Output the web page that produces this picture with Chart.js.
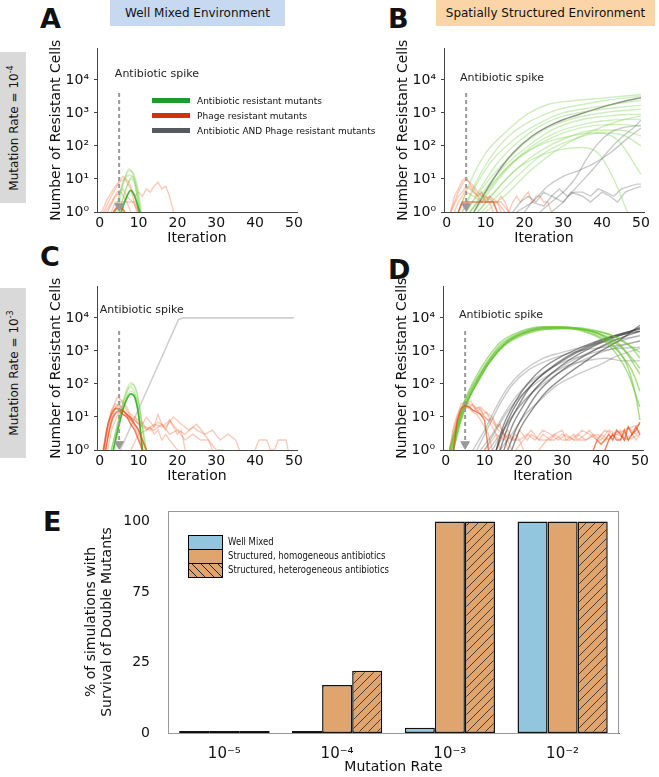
<!DOCTYPE html>
<html lang="en">
<head>
<meta charset="UTF-8">
<title>Resistant cells and double mutant survival</title>
<script src="https://cdn.jsdelivr.net/npm/chart.js"></script>
<style>
  body { margin: 0; background: #fff; font-family: 'DejaVu Sans', sans-serif; color: #111; }
  #fig { position: relative; width: 659px; height: 777px; overflow: hidden; }
  canvas { position: absolute; }
  .letter { position: absolute; font-weight: bold; font-size: 27px; line-height: 1; }
  .head { position: absolute; top: 0; height: 26px; line-height: 26px; text-align: center; font-size: 12px; }
  .side { position: absolute; left: 0; width: 26px; background: #d9d9d9; }
  .side span { position: absolute; left: 50%; top: 50%; transform: translate(-50%, -50%) rotate(-90deg); white-space: nowrap; font-size: 12px; }
  .side sup { font-size: 8px; }
  #legA { position: absolute; left: 152px; top: 94px; font-size: 9px; z-index: 5; }
  #legA div { height: 15px; line-height: 15px; white-space: nowrap; }
  #legA i { display: inline-block; width: 38px; height: 5px; vertical-align: middle; margin-right: 7px; margin-top: -2px; }
  #legE { position: absolute; left: 188px; top: 535px; z-index: 5; }
  #legE div { height: 14px; position: relative; }
  #legE b { position: absolute; left: 0; top: 0; width: 33px; height: 13px; border: 1px solid #000; }
  #legE span { position: absolute; left: 40px; top: 0; line-height: 14px; white-space: nowrap; font-size: 10px;
    transform: scaleX(0.85); transform-origin: left center; }
</style>
</head>
<body>
<div id="fig">
  <div class="letter" style="left:40px; top:5px;">A</div>
  <div class="letter" style="left:388px; top:5px;">B</div>
  <div class="letter" style="left:40px; top:243px;">C</div>
  <div class="letter" style="left:388px; top:256px;">D</div>
  <div class="letter" style="left:43px; top:508px;">E</div>

  <div class="head" style="left:110px; width:175px; background:#c6d9f1;">Well Mixed Environment</div>
  <div class="head" style="left:436px; width:219px; background:#fbd5a8;">Spatially Structured Environment</div>

  <div class="side" style="top:52px; height:151px;"><span>Mutation Rate = 10<sup>-4</sup></span></div>
  <div class="side" style="top:288px; height:170px;"><span>Mutation Rate = 10<sup>-3</sup></span></div>

  <canvas id="cA" width="277" height="212" style="left:30px; top:35px;"></canvas>
  <canvas id="cB" width="277" height="212" style="left:377px; top:35px;"></canvas>
  <canvas id="cC" width="277" height="212" style="left:30px; top:273px;"></canvas>
  <canvas id="cD" width="277" height="212" style="left:376px; top:273px;"></canvas>
  <canvas id="cE" width="570" height="277" style="left:60px; top:500px;"></canvas>

  <div id="legA">
    <div><i style="background:#1f9a2e"></i>Antibiotic resistant mutants</div>
    <div><i style="background:#d4300c"></i>Phage resistant mutants</div>
    <div><i style="background:#56595e"></i>Antibiotic AND Phage resistant mutants</div>
  </div>

  <div id="legE">
    <div><b style="background:#92c5de"></b><span>Well Mixed</span></div>
    <div><b style="background:#e0a46e"></b><span>Structured, homogeneous antibiotics</span></div>
    <div><b style="background:repeating-linear-gradient(45deg, #e0a46e 0 5px, #222 5px 6px)"></b><span>Structured, heterogeneous antibiotics</span></div>
  </div>
</div>

<script>
// ---- data: each trace is [iterations, resistant cell counts] ----
const iterTicks = [0, 10, 20, 30, 40, 50];
const logTicks = [1, 10, 100, 1000, 10000];

const aGreen = [
  [[4, 5.5, 7, 8, 9, 10, 10.7], [1, 5, 15, 18, 12, 4, 1]],
  [[4.5, 6, 7.5, 8.5, 9.5, 10.5], [1, 6, 20, 14, 6, 1]],
  [[5, 6.5, 8, 9, 10], [1, 4, 10, 7, 1]],
  [[4, 6, 7.5, 9, 10.3], [1, 8, 13, 8, 1]],
  [[5, 7, 8.5, 9.5, 10.5], [1, 6, 12, 5, 1]]
];
const aGreenDark = [[[5.5, 7, 8, 9, 10.3], [1, 3, 4.5, 3, 1]]];
const aRed = [
  [[0.5, 2, 4, 6, 7.5, 9, 10], [1, 2.5, 6, 12, 8, 3, 1]],
  [[1, 3, 5, 6.5, 8, 9.5], [1, 3, 8, 10, 5, 1]],
  [[1.5, 3, 4.5, 6, 7, 8.5, 10], [1, 2, 4, 5, 3, 2, 1]],
  [[3, 4, 5, 7, 9, 10], [1, 2, 2, 2, 2, 1]],
  [[2, 4, 5.5, 7, 8], [1, 3, 4, 2, 1]],
  [[9, 10, 11, 12, 13, 14, 15, 16, 17, 18, 19], [3, 4, 3, 5, 4, 6, 8, 5, 6, 3, 1]]
];
const aRedDark = [[[3.5, 5, 6.5], [1, 1.5, 1]]];

const bGreen = [
  [[3, 6, 10, 15, 20, 26, 32, 40, 50], [1, 8, 60, 250, 800, 1800, 2300, 2800, 3600]],
  [[4, 7, 11, 16, 22, 28, 35, 42, 50], [1, 6, 40, 200, 600, 1200, 1800, 2500, 3200]],
  [[4, 8, 12, 18, 24, 30, 38, 45, 50], [1, 8, 40, 180, 500, 1000, 1500, 2000, 2400]],
  [[5, 9, 13, 18, 24, 30, 38, 45, 50], [1, 6, 30, 120, 400, 800, 1200, 1500, 1700]],
  [[5, 9, 14, 20, 26, 33, 40, 46, 50], [1, 5, 25, 120, 350, 700, 1000, 1200, 1300]],
  [[6, 10, 15, 21, 27, 34, 41, 47, 50], [1, 5, 25, 100, 300, 600, 800, 900, 900]],
  [[6, 11, 16, 22, 28, 35, 42, 50], [1, 5, 25, 100, 250, 450, 600, 650]],
  [[7, 12, 17, 23, 30, 37, 44, 50], [1, 6, 30, 100, 250, 400, 450, 400]],
  [[8, 13, 18, 24, 31, 38, 45, 50], [1, 5, 20, 70, 180, 300, 300, 200]],
  [[9, 14, 19, 25, 32, 40, 46, 50], [1, 4, 15, 60, 150, 250, 200, 100]],
  [[6, 12, 18, 25, 32, 38, 44, 50], [1, 8, 40, 120, 200, 250, 150, 14]],
  [[8, 13, 18, 24, 30, 35, 39, 43, 46.5], [1, 5, 20, 50, 80, 90, 60, 10, 1]],
  [[10, 16, 22, 30, 38, 45, 50], [1, 4, 20, 100, 300, 600, 800]]
];
const bGrayDark = [[[7, 12, 17, 22, 28, 34, 40, 46, 50], [1, 10, 60, 200, 500, 900, 1500, 2300, 2900]]];
const bGray = [
  [[18, 22, 26, 30, 34, 38, 42, 46, 50], [1, 2, 6, 12, 18, 30, 60, 150, 350]],
  [[27, 30, 33, 36, 39, 42, 45, 48, 50], [1, 2, 5, 12, 30, 80, 180, 350, 600]],
  [[24, 27, 30, 33, 36, 39, 42, 45, 48, 50], [1, 2, 4, 10, 40, 120, 250, 350, 400, 420]]
];
const bGrayJagged = [
  [[17, 19, 21, 23, 25, 27, 29, 31, 33, 35, 37, 39, 41, 43, 45, 47, 49, 50], [1, 2, 3, 2, 4, 3, 5, 3, 4, 4, 3, 5, 4, 3, 5, 6, 7, 7]],
  [[20, 22, 25, 27, 30, 32, 35, 37, 40, 42, 44, 46, 48, 50], [1, 2, 1.5, 3, 2, 4, 3, 2, 4, 3, 2, 4, 5, 6]]
];
const bRed = [
  [[1, 2, 3, 4, 5, 6, 7, 8, 9, 10, 11, 12, 13, 14], [1, 2, 4, 7, 10, 8, 6, 4, 3, 3, 2, 2, 2, 1]],
  [[1, 2, 3, 4, 5, 6, 7, 8, 9, 10, 11, 12], [1, 3, 5, 9, 11, 7, 5, 3, 4, 2, 2, 1]],
  [[2, 3, 4, 5, 6, 7, 8, 9, 10, 11, 12, 13, 14, 15, 16], [1, 2, 3, 5, 6, 4, 3, 4, 2, 3, 2, 2, 3, 2, 1]],
  [[1, 3, 4, 5, 6, 8, 9, 10, 12, 13, 15], [1, 3, 4, 6, 5, 3, 2, 3, 2, 2, 1]],
  [[3, 5, 7, 9, 11, 13, 14, 16], [1, 4, 3, 2, 3, 2, 2, 1]],
  [[16, 17, 18, 19, 20, 21, 22, 23, 24, 25, 26, 27], [1, 2, 3, 2, 3, 4, 2, 3, 3, 2, 2, 1]]
];
const bRedDark = [[[3, 4, 5, 6, 7, 8, 9, 10, 11, 12, 13], [1, 2, 2, 2, 2, 2, 2, 2, 2, 2, 1]]];

const cGreen = [
  [[3, 4.5, 6, 7, 8, 9, 10, 11, 12], [1, 6, 30, 70, 110, 80, 30, 5, 1]],
  [[3, 4.5, 6, 7, 8, 9, 10, 11], [1, 5, 25, 55, 80, 55, 15, 1]],
  [[3.5, 5, 6.5, 7.5, 8.5, 9.5, 10.5, 11.5], [1, 8, 40, 80, 100, 60, 12, 1]],
  [[3, 4.5, 6, 7.5, 9, 10, 11], [1, 5, 20, 50, 40, 10, 1]],
  [[4, 5.5, 7, 8, 9, 10, 11, 12], [1, 10, 40, 60, 50, 25, 5, 1]]
];
const cGreenDark = [[[3.5, 5, 6.5, 8, 9, 10, 11], [1, 6, 25, 50, 40, 12, 1]]];
const cRed = [
  [[0.8, 2, 3, 4, 5, 6, 7, 8, 9, 10, 11, 12], [1, 6, 15, 25, 22, 18, 12, 10, 6, 4, 2, 1]],
  [[1, 2, 3, 4, 5, 6, 8, 10, 11], [1, 5, 12, 18, 20, 15, 8, 3, 1]],
  [[1, 2, 3, 4.5, 6, 7, 8, 9, 10, 11, 12, 13, 14, 15, 16, 17, 18, 19, 20, 21, 22], [1, 5, 15, 40, 30, 15, 12, 10, 8, 6, 10, 7, 5, 12, 6, 4, 8, 5, 3, 4, 1]],
  [[1.5, 3, 4, 5, 6, 7, 9, 11, 13, 15, 17, 19, 21, 23, 25, 27, 29, 31, 33, 35, 36], [1, 8, 20, 25, 16, 12, 8, 5, 4, 7, 5, 10, 6, 4, 6, 3, 4, 2, 3, 2, 1]],
  [[1, 2.5, 4, 5.5, 7, 8, 9, 10, 12, 14, 16, 18, 20, 22, 24, 26, 28, 30, 32], [1, 6, 18, 30, 20, 10, 8, 6, 5, 4, 6, 3, 4, 2, 3, 2, 2, 1, 1]],
  [[2, 3, 5, 6, 8, 9, 10, 11, 12, 13, 14, 15, 16, 17, 18, 20], [1, 4, 15, 12, 8, 10, 6, 7, 4, 5, 3, 4, 2, 3, 2, 1]],
  [[8, 10, 12, 14, 16, 18, 20, 22, 24, 25, 27, 28, 29], [1, 3, 4, 6, 5, 8, 4, 3, 5, 4, 3, 2, 1]],
  [[40, 41, 42, 43, 44, 45, 46, 47, 48, 48.5], [1, 2, 2, 2, 1, 1, 2, 2, 2, 1]]
];
const cRedDark = [
  [[1, 2, 3, 4, 5, 6, 7, 8, 9, 10, 11, 12], [1, 5, 12, 18, 17, 15, 12, 9, 6, 4, 2, 1]],
  [[1.5, 2.5, 3.5, 5, 6, 7, 8, 9, 10, 11], [1, 4, 10, 15, 12, 10, 6, 4, 2, 1]]
];
const cGray = [[[5.3, 20.3, 21.5, 50], [1, 9000, 10000, 10000]]];

const dGreen = [
  [[1, 3, 5, 7, 10, 14, 19, 25, 30, 35, 40, 44, 47, 49, 50], [1, 6, 30, 90, 350, 1500, 3500, 5200, 5400, 4500, 3000, 1200, 300, 40, 8]],
  [[1, 3, 5, 7, 10, 14, 19, 25, 30, 35, 40, 44, 47, 50], [1, 7, 35, 110, 450, 1800, 3800, 5400, 5200, 4000, 2300, 800, 200, 20]],
  [[1.5, 3.5, 5.5, 8, 11, 15, 20, 26, 31, 36, 41, 45, 48, 50], [1, 8, 30, 120, 500, 1700, 3500, 5000, 5000, 4000, 2200, 800, 250, 60]],
  [[2, 4, 6, 8, 11, 15, 20, 26, 32, 38, 43, 47, 50], [1, 10, 40, 100, 400, 1400, 3000, 4500, 4800, 3800, 2000, 800, 300]],
  [[1, 3, 5, 7, 10, 14, 19, 25, 31, 37, 43, 48, 50], [1, 5, 25, 80, 300, 1200, 3000, 4600, 4800, 4200, 2800, 1200, 600]],
  [[2, 4, 6, 9, 12, 16, 21, 27, 33, 39, 45, 50], [1, 8, 35, 180, 600, 2000, 4000, 5300, 5000, 3500, 1500, 200]],
  [[1.5, 3.5, 5.5, 8, 11, 15, 20, 26, 32, 38, 44, 50], [1, 6, 28, 100, 400, 1500, 3300, 4900, 5100, 4300, 2600, 900]]
];
const dGray = [
  [[7, 10, 13, 16, 20, 25, 30, 35, 40, 45, 50], [1, 4, 20, 80, 250, 600, 900, 1300, 1800, 2300, 2800]],
  [[8, 11, 14, 17, 21, 26, 31, 36, 41, 46, 50], [1, 5, 25, 90, 250, 500, 800, 1100, 1300, 1600, 2000]],
  [[9, 12, 15, 18, 22, 26, 30, 35, 40, 45, 50], [1, 3, 12, 40, 120, 250, 450, 700, 1000, 1200, 1300]],
  [[10, 13, 16, 19, 23, 27, 31, 36, 41, 46, 50], [1, 4, 15, 40, 100, 200, 350, 500, 600, 500, 500]],
  [[11, 14, 17, 21, 25, 30, 35, 40, 45, 50], [1, 3, 10, 40, 100, 250, 500, 900, 1400, 2000]],
  [[12, 15, 18, 22, 26, 30, 35, 40, 45, 50], [1, 4, 15, 50, 150, 350, 700, 1300, 2000, 3000]],
  [[14, 17, 20, 24, 28, 32, 36, 40, 44, 48, 50], [1, 3, 10, 30, 80, 150, 250, 400, 700, 1000, 1200]]
];
const dGrayDark = [
  [[13, 15, 18, 21, 25, 30, 35, 40, 45, 50], [1, 6, 30, 100, 300, 700, 1300, 2200, 3300, 4500]],
  [[14, 16, 19, 22, 26, 31, 36, 41, 46, 50], [1, 5, 25, 90, 250, 650, 1300, 2300, 3500, 4800]],
  [[15, 17, 20, 23, 27, 32, 37, 42, 47, 50], [1, 5, 22, 70, 200, 550, 1200, 2200, 3600, 5200]],
  [[16, 18, 21, 24, 28, 33, 38, 43, 48, 50], [1, 4, 18, 60, 170, 450, 1000, 2000, 3300, 4000]],
  [[13, 16, 19, 23, 28, 33, 38, 43, 48, 50], [1, 8, 35, 120, 350, 800, 1500, 2600, 3600, 3900]],
  [[17, 19, 22, 26, 30, 35, 40, 45, 50], [1, 4, 15, 60, 150, 400, 1000, 2200, 6000]]
];
const dRed = [
  [[1, 2, 3, 4, 5, 6, 7, 8, 9, 10, 11, 12, 13, 14, 15, 16], [1, 4, 10, 20, 30, 25, 22, 18, 20, 15, 12, 10, 6, 5, 3, 1]],
  [[1, 2, 3, 4, 5, 6, 7, 8, 9, 10, 11, 12, 13, 14], [1, 5, 12, 25, 28, 20, 24, 15, 18, 10, 8, 5, 3, 1]],
  [[1.5, 2.5, 3.5, 4.5, 5.5, 6.5, 7.5, 8.5, 9.5, 10.5, 11.5, 12.5, 13.5, 15, 16, 17], [1, 5, 15, 22, 25, 30, 18, 20, 12, 14, 8, 6, 4, 3, 2, 1]],
  [[2, 3, 4, 5, 6, 7, 8, 9, 10, 11, 12, 13, 14, 15, 16, 17, 18, 19, 20], [1, 6, 14, 18, 22, 15, 17, 12, 10, 8, 9, 5, 6, 3, 4, 2, 3, 2, 1]],
  [[1, 2, 3, 4, 5, 6, 7, 8, 9, 10, 11, 12], [1, 3, 8, 15, 20, 18, 14, 12, 8, 5, 3, 1]],
  [[10, 12, 13, 15, 16, 18, 19, 21, 22, 24, 25, 27, 28, 30, 31, 33, 34, 36, 37, 39, 40, 42, 43, 45, 46, 48, 49, 50], [1, 2, 3, 2, 3, 2, 4, 2, 3, 2, 3, 2, 3, 4, 2, 3, 2, 3, 4, 2, 3, 2, 3, 4, 2, 3, 2, 3]],
  [[13, 15, 17, 19, 21, 23, 25, 27, 29, 31, 33, 35, 37, 39, 41, 43, 45, 47, 49, 50], [1, 3, 2, 2, 3, 2, 4, 3, 2, 3, 2, 4, 3, 2, 4, 3, 2, 5, 3, 4]],
  [[18, 20, 22, 24, 26, 28, 30, 32, 34, 36, 38, 40, 42, 44, 46, 48, 50], [1, 2, 4, 2, 2, 3, 2, 2, 3, 2, 3, 2, 4, 3, 4, 5, 6]],
  [[24, 26, 28, 30, 33, 36, 39, 41, 44, 47, 50], [1, 2, 2, 3, 2, 2, 3, 2, 3, 2, 3]]
];
const dRedDark = [
  [[38, 39, 40, 41, 42, 43, 44, 45, 46, 47, 48, 49, 50], [1, 2, 1.5, 2, 3, 2, 4, 3, 2, 5, 3, 4, 7]],
  [[41, 42, 43, 44, 45, 46, 47, 48, 49, 50], [1, 2, 3, 2, 2, 4, 2, 3, 5, 3]],
  [[2, 3, 4, 5, 6, 7, 8, 9, 10, 11], [1, 8, 18, 22, 20, 16, 14, 12, 8, 1]]
];

// panel E
const rateLabels = ['10⁻⁵', '10⁻⁴', '10⁻³', '10⁻²'];
const wellMixed = [0, 0, 2.5, 100];
const homogeneous = [0, 22.7, 100, 100];
const heterogeneous = [0, 29.4, 100, 100];
const eTickPos = [0, 33.3, 66.7, 100];
const eTickLabels = ['0', '25', '75', '100'];

// ---- drawing ----
const FONT = "'DejaVu Sans', sans-serif";
const SUP = ['⁰', '¹', '²', '³', '⁴', '⁵'];
const AXIS = '#444';

const C_GREEN = 'rgba(115, 205, 70, 0.35)';
const C_GREEN_DARK = 'rgba(45, 170, 30, 0.85)';
const C_RED = 'rgba(245, 125, 85, 0.4)';
const C_RED_DARK = 'rgba(228, 70, 20, 0.65)';
const C_GRAY = 'rgba(80, 80, 80, 0.3)';
const C_GRAY_DARK = 'rgba(55, 55, 55, 0.55)';

function traces(list, color, width, smooth) {
  return list.map(t => ({
    data: t[0].map((x, i) => ({ x: x, y: t[1][i] })),
    borderColor: color,
    borderWidth: width,
    pointRadius: 0,
    fill: false,
    cubicInterpolationMode: smooth ? 'monotone' : 'default',
    tension: 0
  }));
}

const spikeText = {
  id: 'spikeText',
  afterDatasetsDraw(chart, args, opts) {
    const { ctx, scales } = chart;
    ctx.save();
    ctx.font = '11px ' + FONT;
    ctx.fillStyle = '#222';
    ctx.textBaseline = 'middle';
    ctx.fillText('Antibiotic spike', scales.x.getPixelForValue(opts.x), scales.y.getPixelForValue(opts.y));
    ctx.restore();
  }
};

function linePanel(id, groups, label) {
  const spike = [
    { data: [{ x: 5, y: 4000 }, { x: 5, y: 1.8 }], borderColor: '#9a9a9a', borderWidth: 2, borderDash: [4, 3], pointRadius: 0 },
    { data: [{ x: 5, y: 1.5 }], showLine: false, pointStyle: 'triangle', rotation: 180, pointRadius: 5,
      backgroundColor: '#9a9a9a', borderColor: '#9a9a9a' }
  ];
  let sets = spike;
  groups.forEach(g => { sets = sets.concat(traces(g[0], g[1], g[2], g[3])); });

  new Chart(document.getElementById(id), {
    type: 'line',
    data: { datasets: sets },
    plugins: [spikeText],
    options: {
      responsive: false,
      animation: false,
      devicePixelRatio: 1,
      layout: { padding: { top: 10, right: 10, left: 0, bottom: 0 } },
      plugins: { legend: { display: false }, tooltip: { enabled: false }, spikeText: label },
      scales: {
        x: {
          type: 'linear', min: -0.7, max: 50.8,
          afterBuildTicks: s => { s.ticks = iterTicks.map(v => ({ value: v })); },
          afterFit: s => { s.height = 35; },
          grid: { drawOnChartArea: false, drawTicks: false, color: AXIS },
          border: { color: AXIS },
          ticks: { font: { family: FONT, size: 14 }, color: '#111', padding: 3, maxRotation: 0 },
          title: { display: true, text: 'Iteration', font: { family: FONT, size: 14 }, color: '#111', padding: { top: 0, bottom: 0 } }
        },
        y: {
          type: 'logarithmic', min: 1, max: 90000,
          afterBuildTicks: s => { s.ticks = logTicks.map(v => ({ value: v })); },
          afterFit: s => { s.width = 67; },
          grid: { drawOnChartArea: false, tickLength: 3, color: AXIS },
          border: { color: AXIS },
          ticks: { font: { family: FONT, size: 14 }, color: '#111', padding: 5,
            callback: v => '10' + SUP[Math.round(Math.log10(v))] },
          title: { display: true, text: 'Number of Resistant Cells', font: { family: FONT, size: 14 }, color: '#111', padding: { top: 18, bottom: 0 } }
        }
      }
    }
  });
}

linePanel('cA', [
  [aRedDark, C_RED_DARK, 2, true],
  [aGreenDark, C_GREEN_DARK, 1.8, true],
  [aGreen, C_GREEN, 1.4, true],
  [aRed, C_RED, 1.4, false]
], { x: 3.9, y: 15000 });

linePanel('cB', [
  [bRedDark, C_RED_DARK, 1.6, false],
  [bGreen, C_GREEN, 1.4, true],
  [bGrayDark, C_GRAY_DARK, 1.5, true],
  [bGray, C_GRAY, 1.4, true],
  [bGrayJagged, C_GRAY, 1.4, false],
  [bRed, C_RED, 1.4, false]
], { x: 3.4, y: 11500 });

linePanel('cC', [
  [cRedDark, C_RED_DARK, 1.6, true],
  [cGreenDark, C_GREEN_DARK, 1.6, true],
  [cGreen, C_GREEN, 1.4, true],
  [cRed, C_RED, 1.4, false],
  [cGray, 'rgba(150, 150, 150, 0.45)', 1.6, false]
], { x: 0, y: 17000 });

linePanel('cD', [
  [dRedDark, C_RED_DARK, 1.5, false],
  [dGreen, 'rgba(100, 195, 45, 0.55)', 1.5, true],
  [dGrayDark, C_GRAY_DARK, 1.4, true],
  [dGray, C_GRAY, 1.4, true],
  [dRed, C_RED, 1.4, false]
], { x: 3.4, y: 12300 });

// hatch fill for heterogeneous antibiotics
function hatch(color) {
  const c = document.createElement('canvas');
  c.width = 9; c.height = 9;
  const g = c.getContext('2d');
  g.fillStyle = color;
  g.fillRect(0, 0, 9, 9);
  g.strokeStyle = '#222';
  g.lineWidth = 0.8;
  g.beginPath();
  g.moveTo(0, 9); g.lineTo(9, 0);
  g.moveTo(-1, 1); g.lineTo(1, -1);
  g.moveTo(8, 10); g.lineTo(10, 8);
  g.stroke();
  return g.createPattern(c, 'repeat');
}

const frameAndZeros = {
  id: 'frameAndZeros',
  afterDatasetsDraw(chart) {
    const { ctx, chartArea: a } = chart;
    ctx.save();
    ctx.strokeStyle = '#999';
    ctx.lineWidth = 1;
    ctx.strokeRect(a.left + 0.5, a.top + 0.5, a.right - a.left - 1, a.bottom - a.top);
    ctx.strokeStyle = '#111';
    ctx.lineWidth = 2;
    chart.data.datasets.forEach((ds, i) => {
      chart.getDatasetMeta(i).data.forEach((bar, j) => {
        if (ds.data[j] === 0) {
          ctx.beginPath();
          ctx.moveTo(bar.x - bar.width / 2, bar.base - 1);
          ctx.lineTo(bar.x + bar.width / 2, bar.base - 1);
          ctx.stroke();
        }
      });
    });
    ctx.restore();
  }
};

const barStyle = { borderColor: '#111', borderWidth: 1.5, borderSkipped: false, categoryPercentage: 0.8, barPercentage: 1.0 };

new Chart(document.getElementById('cE'), {
  type: 'bar',
  data: {
    labels: rateLabels,
    datasets: [
      Object.assign({ label: 'Well Mixed', data: wellMixed, backgroundColor: '#92c5de' }, barStyle),
      Object.assign({ label: 'Structured, homogeneous antibiotics', data: homogeneous, backgroundColor: '#e0a46e' }, barStyle),
      Object.assign({ label: 'Structured, heterogeneous antibiotics', data: heterogeneous, backgroundColor: hatch('#e0a46e') }, barStyle)
    ]
  },
  plugins: [frameAndZeros],
  options: {
    responsive: false,
    animation: false,
    devicePixelRatio: 1,
    layout: { padding: { top: 11, right: 11, left: 0, bottom: 0 } },
    plugins: { legend: { display: false }, tooltip: { enabled: false } },
    scales: {
      x: {
        afterFit: s => { s.height = 44; s.paddingLeft = 0; s.paddingRight = 0; },
        grid: { display: false },
        border: { color: '#555' },
        ticks: { font: { family: FONT, size: 15 }, color: '#111', padding: 4 },
        title: { display: true, text: 'Mutation Rate', font: { family: FONT, size: 14 }, color: '#111', padding: { top: 0, bottom: 1 } }
      },
      y: {
        min: 0, max: 105,
        afterBuildTicks: s => { s.ticks = eTickPos.map(v => ({ value: v })); },
        afterFit: s => { s.width = 108; s.paddingTop = 0; s.paddingBottom = 0; },
        grid: { display: false },
        border: { display: false },
        ticks: { font: { family: FONT, size: 14 }, color: '#111', padding: 10,
          callback: (v, i) => eTickLabels[i] },
        title: { display: true, text: ['% of simulations with', 'Survival of Double Mutants'],
          font: { family: FONT, size: 14, lineHeight: 1.1 }, color: '#111', padding: { top: 24, bottom: 0 } }
      }
    }
  }
});
</script>
</body>
</html>
